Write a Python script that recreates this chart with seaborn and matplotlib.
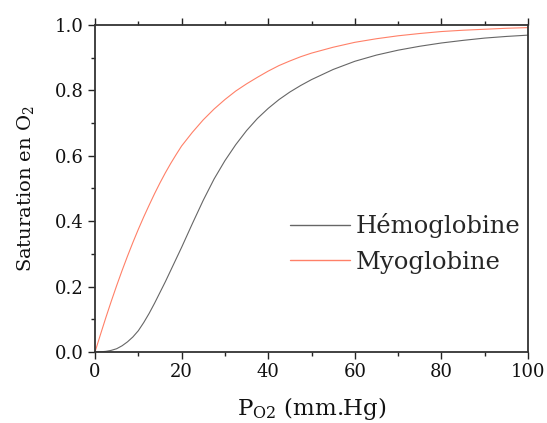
import matplotlib
matplotlib.use("Agg")
import matplotlib.pyplot as plt
import seaborn as sns
import pandas as pd
from matplotlib.ticker import MultipleLocator

# Data
po2_myo = [0, 1.25, 2.5, 3.75, 5, 6.25, 7.5, 8.75, 10, 11.25, 12.5, 13.75, 15,
           16.25, 17.5, 18.75, 20, 22.5, 25, 27.5, 30, 32.5, 35,
           37.5, 40, 42.5, 45, 47.5, 50, 55, 60, 65, 70, 75, 80, 85, 90, 95, 100]
sat_myo = [0.0, 0.053, 0.105, 0.155, 0.203, 0.249, 0.293, 0.335, 0.375, 0.413,
           0.449, 0.484, 0.517, 0.548, 0.577, 0.604, 0.63, 0.672, 0.71,
           0.743, 0.772, 0.798, 0.82, 0.84, 0.859, 0.876, 0.89, 0.903, 0.914,
           0.932, 0.947, 0.958, 0.967, 0.974, 0.98, 0.984, 0.987, 0.99, 0.992]

po2_hb = [0, 1.25, 2.5, 3.75, 5, 6.25, 7.5, 8.75, 10, 11.25, 12.5, 13.75, 15,
          16.25, 17.5, 18.75, 20, 22.5, 25, 27.5, 30, 32.5, 35,
          37.5, 40, 42.5, 45, 47.5, 50, 55, 60, 65, 70, 75, 80, 85, 90, 95, 100]
sat_hb = [0.0, 0.0005, 0.002, 0.005, 0.01, 0.019, 0.031, 0.046, 0.065, 0.09,
          0.118, 0.149, 0.182, 0.215, 0.25, 0.285, 0.32, 0.393, 0.464, 0.529,
          0.585, 0.634, 0.677, 0.714, 0.745, 0.772, 0.795, 0.815, 0.833,
          0.864, 0.889, 0.908, 0.923, 0.935, 0.945, 0.953, 0.96, 0.965, 0.969]

labels = ["Hémoglobine", "Myoglobine"]
colors = ["#666666", "#ff8068"]

x_ticks = [0, 20, 40, 60, 80, 100]
y_ticks = [0.0, 0.2, 0.4, 0.6, 0.8, 1.0]

df = pd.concat([
    pd.DataFrame({"P": po2_hb, "S": sat_hb, "prot": labels[0]}),
    pd.DataFrame({"P": po2_myo, "S": sat_myo, "prot": labels[1]}),
])

sns.set_style("ticks")
plt.rcParams["font.family"] = ["DejaVu Serif"]
plt.rcParams["mathtext.fontset"] = "dejavuserif"

fig = plt.figure(figsize=(5.47, 4.23), dpi=100)
ax = fig.add_axes([95 / 547, 1 - 352 / 423, (528 - 95) / 547, (352 - 25) / 423])

sns.lineplot(data=df, x="P", y="S", hue="prot", palette=colors, ax=ax,
             linewidth=0.8, legend=True)

ax.set_xlim(0, 100)
ax.set_ylim(0, 1.0)
ax.set_xticks(x_ticks)
ax.set_yticks(y_ticks)
ax.set_xticklabels([str(t) for t in x_ticks])
ax.set_yticklabels([f"{t:.1f}" for t in y_ticks])
ax.xaxis.set_minor_locator(MultipleLocator(10))
ax.yaxis.set_minor_locator(MultipleLocator(0.1))

ax.tick_params(axis="both", which="major", length=5, width=1.0, direction="out",
               labelsize=13, colors="#222222", labelcolor="#111111", pad=3)
ax.tick_params(axis="both", which="minor", length=3, width=1.0, direction="out",
               colors="#222222")
ax.tick_params(axis="x", which="both", top=True)
ax.tick_params(axis="y", which="both", right=False)

for s in ax.spines.values():
    s.set_visible(True)
    s.set_linewidth(1.3)
    s.set_color("#333333")

ax.set_xlabel(r"P$_{\mathrm{O2}}$ (mm.Hg)", fontsize=16.5, labelpad=10, color="#111111")
ax.set_ylabel(r"Saturation en O$_2$", fontsize=14, labelpad=14, color="#111111")

leg = ax.legend(loc="center left", bbox_to_anchor=(0.45, 0.332), frameon=False,
                fontsize=17.5, handlelength=2.47, handletextpad=0.25,
                labelspacing=0.5, borderpad=0, borderaxespad=0, title=None)
for line in leg.get_lines():
    line.set_linewidth(1.0)

fig.savefig("out.png", dpi=100)
